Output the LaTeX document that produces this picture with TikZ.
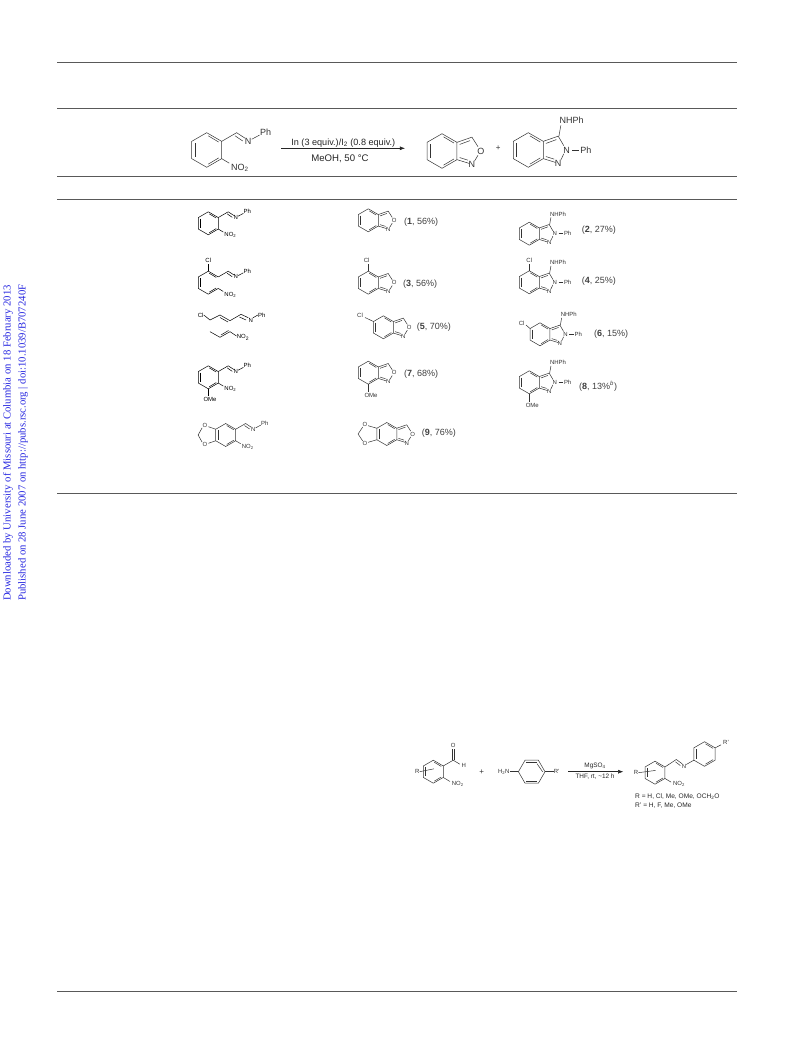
\documentclass[tikz,border=0pt]{standalone}
\usepackage{fontspec}
\setmainfont{Liberation Sans}
\newfontfamily\serifside{Liberation Serif}
\usetikzlibrary{calc, arrows.meta}

\definecolor{sideblue}{RGB}{40,40,225}
\tikzset{
  rule/.style = {line width=.9pt, black!65},
  bond/.style = {line width=.5pt, black!80},
  react/.style = {-Latex, line width=.5pt, black!85},
  atom/.style = {inner sep=0pt, text=black!80},
  yield/.style = {inner sep=0pt, anchor=west, font=\fontsize{9}{9}\selectfont, text=black!75},
  cond/.style = {inner sep=0pt, text=black!85},
  side/.style = {inner sep=0pt, anchor=west, rotate=90, text=sideblue,
    font=\serifside\fontsize{10.7}{10.7}\selectfont}
}

% ring and atoms scaled by the bond length #3, centred at (#1,#2)
\newcommand{\setatomsize}[1]{\pgfmathsetmacro\atomsize{#1*.52}%
  \tikzset{atom/.append style={font=\fontsize{\atomsize}{\atomsize}\selectfont}}}
\newcommand{\benzring}{%
  \draw[bond] (0,-1) -- (.866,-.5) -- (.866,.5) -- (0,1) -- (-.866,.5) -- (-.866,-.5) -- cycle;
  \draw[bond] (-.69,-.4) -- (-.69,.4);
  \draw[bond] (.09,-.82) -- (.69,-.46);
  \draw[bond] (.09,.82) -- (.69,.46);}
\newcommand{\isoxring}{%
  \draw[bond] (.866,-.5) -- (1.73,-.8) -- (2.08,-.25);
  \draw[bond] (2.08,.25) -- (1.88,.58);
  \draw[bond] (1.58,.72) -- (.866,.5);
  \draw[bond] (1.02,-.38) -- (1.62,-.6);
  \draw[bond] (1.02,.38) -- (1.5,.53);
  \node[atom] (O) at (2.25,0) {O};
  \node[atom] (N) at (1.73,.8) {N};}
\newcommand{\indring}{%
  \draw[bond] (.866,-.5) -- (1.73,-.8) -- (2.05,-.25);
  \draw[bond] (2.05,.22) -- (1.88,.58);
  \draw[bond] (1.58,.72) -- (.866,.5);
  \draw[bond] (1.02,-.38) -- (1.62,-.6);
  \draw[bond] (1.02,.38) -- (1.5,.53);
  \draw[bond] (1.77,-.8) -- (1.88,-1.42);
  \draw[bond] (2.55,0) -- (2.95,0);
  \node[atom] (N1) at (1.73,.8) {N};
  \node[atom] (N2) at (2.22,0) {N};
  \node[atom, anchor=west] (Ph) at (3,0) {Ph};
  \node[atom] (NHPh) at (2.5,-1.72) {NHPh};}
\newcommand{\imine}{%
  \draw[bond] (.866,-.5) -- (1.73,-1) -- (2.22,-.68);
  \draw[bond] (1.64,-.82) -- (2.08,-.52);
  \draw[bond] (2.6,-.62) -- (3.05,-.86);
  \draw[bond] (.866,.5) -- (1.3,.76);
  \node[atom] (N) at (2.4,-.52) {N};
  \node[atom] (Ph) at (3.4,-1) {Ph};
  \node[atom] (NO) at (1.92,1.05) {NO\textsubscript{2}};}

\newcommand{\startmat}[3]{\begin{scope}[shift={(#1,#2)},x=#3pt,y=-#3pt]
  \setatomsize{#3}\benzring\imine\end{scope}}
\newcommand{\isoxmol}[3]{\begin{scope}[shift={(#1,#2)},x=#3pt,y=-#3pt]
  \setatomsize{#3}\benzring\isoxring\end{scope}}
\newcommand{\indmol}[3]{\begin{scope}[shift={(#1,#2)},x=#3pt,y=-#3pt]
  \setatomsize{#3}\benzring\indring\end{scope}}

\begin{document}
\begin{tikzpicture}[x=1pt, y=-1pt]
\useasboundingbox[fill=white] (0,0) rectangle (793,1040);

% rules of the table
\foreach \ypos in {62, 108, 176, 199, 493, 991}
  \draw[rule] (57,\ypos) -- (737,\ypos);

% side text
\node[side] (down) at (8,601) {Downloaded by University of Missouri at Columbia on 18 February 2013};
\node[side] (publ) at (23,601) {Published on 28 June 2007 on http://pubs.rsc.org | doi:10.1039/B707240F};

% header reaction
\startmat{206.7}{150}{17.3}
\coordinate (arrA) at (281,148.3);
\coordinate (arrB) at (405,148.3);
\draw[react] (arrA) -- (arrB);
\node[cond, font=\fontsize{9.1}{9.1}\selectfont] (reag) at (343.3,143) {In (3 equiv.)/I\textsubscript{2} (0.8 equiv.)};
\node[cond, font=\fontsize{9.6}{9.6}\selectfont] (temp) at (340,158.3) {MeOH, 50 °C};
\isoxmol{442}{151}{17.3}
\node[atom, font=\fontsize{8}{8}\selectfont] (plus) at (498.3,148.3) {+};
\indmol{528.3}{150}{17.3}

% row 1
\begin{scope}[shift={(208.3,223.3)},x=11.5pt,y=-11.5pt]
\setatomsize{11.5}
\tikzset{bond/.append style={black}, atom/.append style={text=black}}
\benzring\imine
\end{scope}
\isoxmol{368.3}{220.3}{11.5}
\node[yield] (y1) at (404,222) {(\textbf{1}, 56\%)};
\indmol{529.3}{233.7}{11.5}
\node[yield] (y2) at (581.7,230) {(\textbf{2}, 27\%)};

% row 2, some bonds of the ring are lost
\begin{scope}[shift={(208.3,282.7)},x=11.5pt,y=-11.5pt]
\setatomsize{11.5}
\tikzset{bond/.append style={black}, atom/.append style={text=black}}
\draw[bond] (.866,-.5) -- (0,-1) -- (-.866,-.5) -- (-.866,.5) -- (0,1) -- (.866,.5);
\draw[bond] (-.69,-.4) -- (-.69,.4);
\draw[bond] (.09,-.82) -- (.69,-.46);
\draw[bond] (.09,.82) -- (.69,.46);
\imine
\draw[bond] (0,-1) -- (0,-1.65);
\node[atom] (Cl) at (0,-1.95) {Cl};
\end{scope}
\isoxmol{368.3}{282.7}{11.5}
\draw[bond] (368.3,271.2) -- (368.3,264.5);
\node[atom, font=\fontsize{6}{6}\selectfont] (cl3) at (366.7,260.7) {Cl};
\node[yield] (y3) at (403,284.3) {(\textbf{3}, 56\%)};
\indmol{529.3}{282.3}{11.5}
\draw[bond] (529.3,270.8) -- (529.3,264.5);
\node[atom, font=\fontsize{6}{6}\selectfont] (cl4) at (529.3,260.7) {Cl};
\node[yield] (y4) at (581.7,281) {(\textbf{4}, 25\%)};

% row 3, only the zigzag lines are left
\begin{scope}[bond/.append style={black}, atom/.append style={text=black, font=\fontsize{6}{6}\selectfont}]
\node[atom] (cl5s) at (200.7,315) {Cl};
\node[atom] (n5s) at (250.7,320) {N};
\node[atom] (ph5s) at (261.7,315) {Ph};
\node[atom] (no5s) at (243,337.3) {NO\textsubscript{2}};
\draw[bond] (cl5s.east) -- (210,320) -- (220,315) -- (230,320.7) -- (241,314.3) -- (n5s.north west);
\draw[bond] (n5s.north east) -- (ph5s.west);
\draw[bond] (220,317.5) -- (228,322);
\draw[bond] (239.5,317) -- (246,320);
\draw[bond] (210,331.7) -- (220,337.3) -- (230,331.7) -- (236.5,336);
\draw[bond] (221,335) -- (228.5,330.5);
\end{scope}
\isoxmol{383.4}{327.3}{11.5}
\draw[bond] (373.4,321.5) -- (365,317.5);
\node[atom, font=\fontsize{6}{6}\selectfont] (cl5) at (360,315.7) {Cl};
\node[yield] (y5) at (416.7,327.3) {(\textbf{5}, 70\%)};
\indmol{540}{334.3}{11.5}
\draw[bond] (530,328.5) -- (526,325);
\node[atom, font=\fontsize{6}{6}\selectfont] (cl6) at (521.7,323.3) {Cl};
\node[yield] (y6) at (594,334.3) {(\textbf{6}, 15\%)};

% row 4
\begin{scope}[shift={(208.3,377.3)},x=11.5pt,y=-11.5pt]
\setatomsize{11.5}
\tikzset{bond/.append style={black}, atom/.append style={text=black}}
\benzring\imine
\draw[bond] (0,1) -- (0,1.6);
\node[atom] (OMe) at (.15,1.9) {OMe};
\end{scope}
\isoxmol{368.3}{372.7}{11.5}
\draw[bond] (368.3,384.2) -- (368.3,391.5);
\node[atom, font=\fontsize{6}{6}\selectfont] (ome7) at (371,395) {OMe};
\node[yield] (y7) at (404,374.3) {(\textbf{7}, 68\%)};
\indmol{529.3}{382.3}{11.5}
\draw[bond] (529.3,393.8) -- (529.3,402);
\node[atom, font=\fontsize{6}{6}\selectfont] (ome8) at (532.3,405.7) {OMe};
\node[yield] (y8) at (579,386) {(\textbf{8}, 13\%\textsuperscript{\textit{b}})};

% row 5
\startmat{225.7}{435}{11.5}
\begin{scope}[shift={(225.7,435)},x=11.5pt,y=-11.5pt]
\setatomsize{11.5}
\draw[bond] (-.866,-.5) -- (-1.5,-.72);
\draw[bond] (-.866,.5) -- (-1.5,.72);
\draw[bond] (-2.05,-.62) -- (-2.4,0) -- (-2.05,.62);
\node[atom] (Oa) at (-1.8,-.8) {O};
\node[atom] (Ob) at (-1.8,.8) {O};
\end{scope}
\isoxmol{386.8}{434}{11.5}
\begin{scope}[shift={(386.8,434)},x=11.5pt,y=-11.5pt]
\setatomsize{11.5}
\draw[bond] (-.866,-.5) -- (-1.62,-.72);
\draw[bond] (-.866,.5) -- (-1.62,.72);
\draw[bond] (-2.1,-.6) -- (-2.5,0) -- (-2.1,.6);
\node[atom] (Oc) at (-1.9,-.8) {O};
\node[atom] (Od) at (-1.9,.8) {O};
\end{scope}
\node[yield] (y9) at (421.7,432.7) {(\textbf{9}, 76\%)};

% lower scheme
\begin{scope}[shift={(433.3,771.7)},x=11.5pt,y=-11.5pt]
\setatomsize{11.5}
\benzring
\draw[bond] (.866,-.5) -- (1.73,-1) -- (2.3,-.66);
\draw[bond] (1.65,-1.05) -- (1.65,-1.95);
\draw[bond] (1.81,-1.05) -- (1.81,-1.95);
\draw[bond] (.866,.5) -- (1.45,.85);
\node[atom] (Oal) at (1.73,-2.25) {O};
\node[atom] (Hal) at (2.65,-.55) {H};
\node[atom] (NOal) at (2.12,1.05) {NO\textsubscript{2}};
\node[atom] (Ral) at (-1.4,0) {R};
\draw[bond] (Ral.east) -- (.05,-.25);
\end{scope}
\node[atom, font=\fontsize{8}{8}\selectfont] (plusb) at (481.7,772.3) {+};
\begin{scope}[shift={(531.7,771.7)},x=13.3pt,y=-13.3pt]
\setatomsize{11.5}
\draw[bond] (-1,0) -- (-.5,-.866) -- (.5,-.866) -- (1,0) -- (.5,.866) -- (-.5,.866) -- cycle;
\draw[bond] (-.4,-.69) -- (.4,-.69);
\draw[bond] (-.4,.69) -- (.4,.69);
\draw[bond] (.82,0) -- (.4,-.6);
\node[atom, anchor=east] (Hamine) at (-1.65,0) {H\textsubscript{2}N};
\node[atom, anchor=west] (Ramine) at (1.65,0) {R'};
\draw[bond] (Hamine.east) -- (-1,0);
\draw[bond] (1,0) -- (Ramine.west);
\end{scope}
\coordinate (arrC) at (568.3,771.7);
\coordinate (arrD) at (623.3,771.7);
\draw[react] (arrC) -- (arrD);
\node[cond, font=\fontsize{6.4}{6.4}\selectfont] (mgso) at (595,765.7) {MgSO\textsubscript{4}};
\node[cond, font=\fontsize{6.4}{6.4}\selectfont] (thf) at (595,776.3) {THF, rt, \textasciitilde12 h};
\begin{scope}[shift={(655,772.7)},x=11.5pt,y=-11.5pt]
\setatomsize{11.5}
\benzring
\draw[bond] (.866,-.5) -- (1.85,-1.15) -- (2.36,-.78);
\draw[bond] (1.78,-.95) -- (2.2,-.62);
\draw[bond] (.866,.5) -- (1.4,.82);
\node[atom] (Npr) at (2.52,-.52) {N};
\node[atom] (NOpr) at (2.09,.98) {NO\textsubscript{2}};
\node[atom] (Rpr) at (-1.65,0) {R};
\draw[bond] (Rpr.east) -- (.05,-.2);
\end{scope}
\begin{scope}[shift={(704.5,754)},x=12.3pt,y=-12.3pt]
\setatomsize{11.5}
\benzring
\coordinate (arylL) at (-.866,.5);
\draw[bond] (.866,-.5) -- (1.35,-.75);
\node[atom] (Rb) at (1.75,-.95) {R'};
\end{scope}
\draw[bond] (Npr.north east) -- (arylL);
\node[cond, anchor=west, font=\fontsize{6.6}{6.6}\selectfont] (rdef) at (635,796.5) {R = H, Cl, Me, OMe, OCH\textsubscript{2}O};
\node[cond, anchor=west, font=\fontsize{6.6}{6.6}\selectfont] (rbdef) at (635,806) {R' = H, F, Me, OMe};
\end{tikzpicture}
\end{document}
